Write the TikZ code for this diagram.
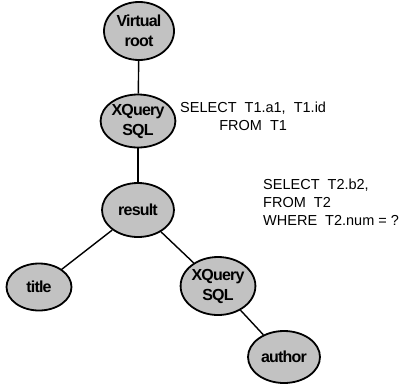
\documentclass[tikz,border=0pt]{standalone}
\usepackage{fontspec}
\setmainfont{Liberation Sans}
\newfontfamily\nodefont[LetterSpace=-5]{Liberation Sans}
\usetikzlibrary{shapes.geometric}
\begin{document}
\begin{tikzpicture}[x=1pt,y=-1pt,
  treenode/.style={ellipse,draw=black,line width=1.8pt,fill=black!24,
    inner sep=0pt,align=center,font=\nodefont\fontsize{16}{20}\selectfont\bfseries},
  edge/.style={line width=1.4pt},
  sqltext/.style={font=\fontsize{14.5}{18}\selectfont,inner sep=0pt}]
\useasboundingbox (0,0) rectangle (403,386);
\node[treenode,minimum width=70,minimum height=58] (vroot) at (139,31) {Virtual\\root};
\node[treenode,minimum width=70,minimum height=53] (xq1) at (138,121) {XQuery\\SQL};
\node[treenode,minimum width=72,minimum height=54] (result) at (138,210) {result};
\node[treenode,minimum width=65,minimum height=47] (title) at (39,287) {title};
\node[treenode,minimum width=66,minimum height=58] (xq2) at (218,286) {XQuery\\SQL};
\node[treenode,minimum width=72,minimum height=52] (author) at (284,357) {author};
\draw[edge] (vroot) -- (xq1);
\draw[edge] (xq1) -- (result);
\draw[edge] (result) -- (title);
\draw[edge] (result) -- (xq2);
\draw[edge] (xq2) -- (author);
\node[sqltext,align=center,anchor=north west] (sql1) at (180,102) {SELECT\ \ T1.a1,\ \ T1.id\\FROM\ \ T1};
\node[sqltext,align=left,anchor=north west] (sql2) at (263,179) {SELECT\ \ T2.b2,\\FROM\ \ T2\\WHERE\ \ T2.num = ?};
\end{tikzpicture}
\end{document}
